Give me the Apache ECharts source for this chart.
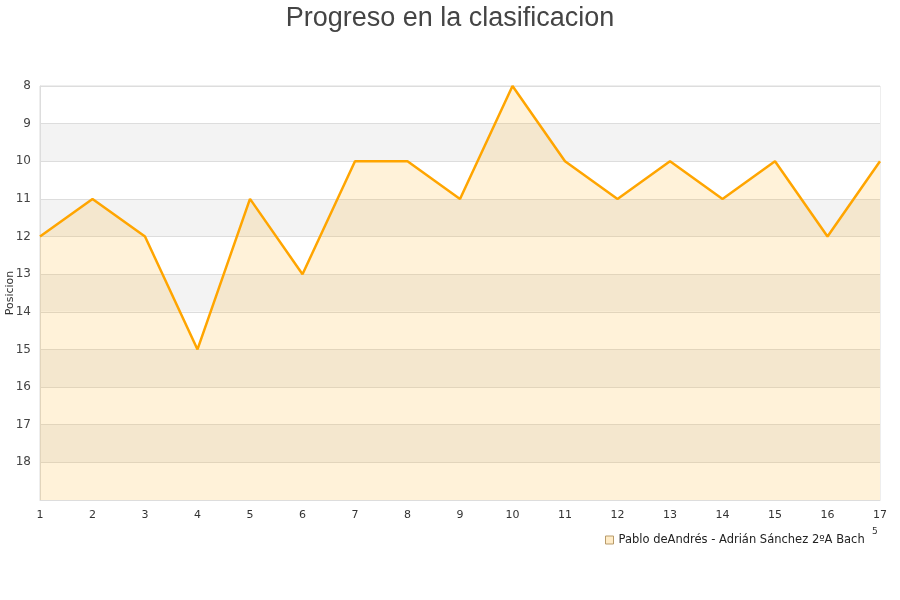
<!DOCTYPE html>
<html>
<head>
<meta charset="utf-8">
<script src="https://cdn.jsdelivr.net/npm/echarts@6/dist/echarts.min.js"></script>
<style>html,body{margin:0;padding:0;background:#fff}#c{width:900px;height:600px}</style>
</head>
<body>
<div id="c"></div>
<script>
const categories = ['1','2','3','4','5','6','7','8','9','10','11','12','13','14','15','16','17'];
const positions = [12, 11, 12, 15, 11, 13, 10, 10, 11, 8, 10, 11, 10, 11, 10, 12, 10];
const seriesName = 'Pablo deAndrés - Adrián Sánchez 2ºA Bach';
const titleText = 'Progreso en la clasificacion';
const yAxisName = 'Posicion';

const chart = echarts.init(document.getElementById('c'), null, {renderer: 'canvas'});
chart.setOption({
  animation: false,
  backgroundColor: '#fff',
  title: {
    text: titleText, left: 'center', top: 0,
    textStyle: {fontFamily: 'Liberation Sans, Arial, sans-serif', fontSize: 27, fontWeight: 'normal', color: '#444'}
  },
  grid: {left: 40, right: 20, top: 86, bottom: 100, containLabel: false, outerBoundsMode: 'none',
    show: true, borderColor: '#ddd', borderWidth: 1, backgroundColor: 'transparent'},
  legend: {
    left: 600, top: 529, icon: 'rect', itemWidth: 8, itemHeight: 8, itemGap: 6,
    textStyle: {fontFamily: 'DejaVu Sans, sans-serif', fontSize: 11.5, color: '#222'},
    data: [{name: seriesName, itemStyle: {color: '#ffecc8', borderColor: '#b89b6a', borderWidth: 1}}]
  },
  xAxis: {
    type: 'category', data: categories, boundaryGap: false,
    axisLine: {show: true, lineStyle: {color: '#ddd'}},
    axisTick: {show: false},
    axisLabel: {color: '#333', fontSize: 11, fontFamily: 'DejaVu Sans, sans-serif', margin: 10},
    splitLine: {show: false}
  },
  yAxis: {
    type: 'value', inverse: true, min: 8, max: 19, interval: 1,
    name: yAxisName, nameLocation: 'middle', nameRotate: 90, nameGap: 24, nameMoveOverlap: false,
    nameTextStyle: {fontSize: 11, color: '#333', fontFamily: 'DejaVu Sans, sans-serif'},
    axisLine: {show: true, lineStyle: {color: '#ddd'}},
    axisTick: {show: false},
    axisLabel: {color: '#444', fontSize: 12, fontFamily: 'DejaVu Sans, sans-serif', margin: 9,
      formatter: v => (v >= 19 ? '' : String(v))},
    splitLine: {show: true, lineStyle: {color: '#ddd', width: 1}},
    splitArea: {show: true, areaStyle: {color: ['#ffffff', '#f3f3f3']}}
  },
  series: [{
    name: seriesName, type: 'line', data: positions,
    symbol: 'none', smooth: false,
    lineStyle: {color: '#ffa500', width: 2.5},
    itemStyle: {color: '#ffecc8', borderColor: '#b89b6a'},
    areaStyle: {color: 'rgba(255,165,0,0.21)', origin: 'end'}
  }],
  graphic: [{
    type: 'text', left: 872, top: 527,
    style: {text: '5', fontSize: 9, fill: '#333', fontFamily: 'DejaVu Sans, sans-serif'}
  }]
});
</script>
</body>
</html>
